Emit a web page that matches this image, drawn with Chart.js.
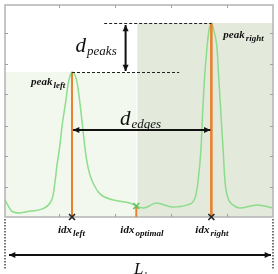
<!DOCTYPE html>
<html>
<head>
<meta charset="utf-8">
<style>
  html, body { margin: 0; padding: 0; background: #fff; }
  #chart { display: block; }
</style>
</head>
<body>
<canvas id="chart" width="278" height="274"></canvas>
<script src="https://cdn.jsdelivr.net/npm/chart.js@4.4.0/dist/chart.umd.min.js"></script>
<script>
// profile samples (index along the line, normalised intensity)
const sampleIdx = [0, 2, 5, 11, 19, 28, 33.6, 35.8, 37.3, 38.8, 41, 42.5, 44, 45.5, 47, 48.5, 50,
  52.2, 53.7, 55.2, 56.7, 58.2, 59.7, 61.2, 63.4, 66.4, 70.9, 81, 93, 98,
  103, 113, 125, 136, 141.8, 144, 146.3, 147.4, 148.7, 150.7, 152.2, 154,
  155.8, 158.2, 159.7, 161.2, 162.7, 164.2, 166.4, 170.1, 175, 188, 200];
const intensity = [0.080, 0.057, 0.028, 0.019, 0.028, 0.038, 0.066, 0.100, 0.165, 0.245, 0.340, 0.425, 0.490,
  0.552, 0.623, 0.665, 0.684,
  0.670, 0.637, 0.575, 0.495, 0.410, 0.325, 0.259, 0.198, 0.151, 0.109, 0.080, 0.066, 0.052,
  0.042, 0.066, 0.047, 0.057, 0.090, 0.165, 0.325, 0.481, 0.637, 0.797, 0.880, 0.915,
  0.880, 0.797, 0.637, 0.481, 0.325, 0.165, 0.090, 0.057, 0.042, 0.057, 0.042];

const idxLeft = 50;
const idxRight = 154;
const idxOptimal = 98;

// small frame ticks
const xTicks = [40, 82, 124, 166];
const yTicks = [0.14, 0.29, 0.43, 0.58, 0.72, 0.87];

// where the helper lines stop
const dashTopStart = 74;
const dashLowEnd = 130;
const dPeaksAt = 90;

function valueAt(i) {
  return intensity[sampleIdx.indexOf(i)];
}

function head(ctx, x, y, ang, size) {
  ctx.beginPath();
  ctx.moveTo(x, y);
  ctx.lineTo(x - size * Math.cos(ang - 0.45), y - size * Math.sin(ang - 0.45));
  ctx.lineTo(x - size * Math.cos(ang + 0.45), y - size * Math.sin(ang + 0.45));
  ctx.closePath();
  ctx.fill();
}

function arrow(ctx, x1, y1, x2, y2) {
  const ang = Math.atan2(y2 - y1, x2 - x1);
  ctx.beginPath();
  ctx.moveTo(x1, y1);
  ctx.lineTo(x2, y2);
  ctx.stroke();
  head(ctx, x2, y2, ang, 7);
  head(ctx, x1, y1, ang + Math.PI, 7);
}

function cross(ctx, x, y, r, color) {
  ctx.strokeStyle = color;
  ctx.lineWidth = 1.6;
  ctx.beginPath();
  ctx.moveTo(x - r, y - r); ctx.lineTo(x + r, y + r);
  ctx.moveTo(x + r, y - r); ctx.lineTo(x - r, y + r);
  ctx.stroke();
}

// text with a subscript
function mathText(ctx, x, y, main, sub, mainFont, subFont, dy) {
  ctx.font = mainFont;
  ctx.fillText(main, x, y);
  const w = ctx.measureText(main).width;
  ctx.font = subFont;
  ctx.fillText(sub, x + w + 1, y + dy);
}

const annotate = {
  id: 'annotate',
  beforeDatasetsDraw(chart) {
    const { ctx, chartArea: a, scales: { x, y } } = chart;
    const xo = x.getPixelForValue(idxOptimal);
    const yl = y.getPixelForValue(valueAt(idxLeft));
    const yr = y.getPixelForValue(valueAt(idxRight));
    ctx.save();
    ctx.fillStyle = '#f3f8ee';
    ctx.fillRect(a.left, yl, xo - a.left, a.bottom - yl);
    ctx.fillStyle = '#e3eadc';
    ctx.fillRect(xo + 1, yr, a.right - xo - 1, a.bottom - yr);
    ctx.restore();
  },
  afterDatasetsDraw(chart) {
    const { ctx, chartArea: a, scales: { x, y } } = chart;
    const xl = x.getPixelForValue(idxLeft);
    const xr = x.getPixelForValue(idxRight);
    const xo = x.getPixelForValue(idxOptimal);
    const yl = y.getPixelForValue(valueAt(idxLeft));
    const yr = y.getPixelForValue(valueAt(idxRight));
    const yo = y.getPixelForValue(valueAt(idxOptimal));
    ctx.save();

    // frame and ticks
    ctx.strokeStyle = '#b3b3b3';
    ctx.lineWidth = 1.5;
    ctx.strokeRect(a.left, a.top, a.right - a.left, a.bottom - a.top);
    ctx.lineWidth = 1;
    ctx.strokeStyle = '#a0a0a0';
    ctx.beginPath();
    xTicks.forEach(function(t) {
      const px = Math.round(x.getPixelForValue(t)) + 0.5;
      ctx.moveTo(px, a.top); ctx.lineTo(px, a.top + 3);
      ctx.moveTo(px, a.bottom); ctx.lineTo(px, a.bottom - 3);
    });
    yTicks.forEach(function(t) {
      const py = Math.round(y.getPixelForValue(t)) + 0.5;
      ctx.moveTo(a.left, py); ctx.lineTo(a.left + 3, py);
      ctx.moveTo(a.right, py); ctx.lineTo(a.right - 3, py);
    });
    ctx.stroke();

    // orange peak / optimum lines
    ctx.strokeStyle = '#e8822e';
    ctx.lineWidth = 2;
    ctx.beginPath();
    ctx.moveTo(xl, yl); ctx.lineTo(xl, a.bottom);
    ctx.moveTo(xo, yo); ctx.lineTo(xo, a.bottom);
    ctx.stroke();
    ctx.lineWidth = 2.6;
    ctx.beginPath();
    ctx.moveTo(xr, yr); ctx.lineTo(xr, a.bottom);
    ctx.stroke();

    cross(ctx, xl, a.bottom, 3, '#222');
    cross(ctx, xr, a.bottom, 3, '#222');
    cross(ctx, xo, yo, 3, '#5cc45c');

    // dashed levels
    ctx.strokeStyle = '#222';
    ctx.lineWidth = 1;
    ctx.setLineDash([3, 2]);
    ctx.beginPath();
    ctx.moveTo(x.getPixelForValue(dashTopStart), Math.round(yr) + 0.5);
    ctx.lineTo(xr, Math.round(yr) + 0.5);
    ctx.moveTo(xl, Math.round(yl) + 0.5);
    ctx.lineTo(x.getPixelForValue(dashLowEnd), Math.round(yl) + 0.5);
    ctx.stroke();

    // dotted limits of L
    ctx.setLineDash([1.5, 1.5]);
    ctx.lineWidth = 1.5;
    ctx.strokeStyle = '#444';
    ctx.beginPath();
    ctx.moveTo(a.left, a.bottom + 2); ctx.lineTo(a.left, 270);
    ctx.moveTo(a.right, a.bottom + 2); ctx.lineTo(a.right, 270);
    ctx.stroke();
    ctx.setLineDash([]);

    // arrows
    ctx.strokeStyle = '#111';
    ctx.fillStyle = '#111';
    ctx.lineWidth = 2;
    const xp = x.getPixelForValue(dPeaksAt);
    arrow(ctx, xp, yr + 2, xp, yl - 1);
    arrow(ctx, xl + 1, 130, xr - 1, 130);
    arrow(ctx, a.left + 4, 255, a.right - 2, 255);

    // labels
    ctx.fillStyle = '#111';
    ctx.textBaseline = 'alphabetic';
    const big = 'italic 21px "Liberation Serif"';
    const mid = 'italic 13px "Liberation Serif"';
    mathText(ctx, xp - 50, 52, 'd', 'peaks', big, mid, 3);
    mathText(ctx, xl + 48, 125, 'd', 'edges', big, mid, 3);
    const lab = 'bold italic 11px "Liberation Serif"';
    const labSub = 'bold italic 9px "Liberation Serif"';
    mathText(ctx, xl - 41, 85, 'peak', 'left', lab, labSub, 3);
    mathText(ctx, xr + 12, 38, 'peak', 'right', lab, labSub, 3);
    mathText(ctx, xl - 14, 233, 'idx', 'left', lab, labSub, 3);
    mathText(ctx, xo - 16, 233, 'idx', 'optimal', lab, labSub, 3);
    mathText(ctx, xr - 16, 233, 'idx', 'right', lab, labSub, 3);
    mathText(ctx, (a.left + a.right) / 2 - 5, 274, 'L', 's', 'italic 17px "Liberation Serif"', 'italic 7px "Liberation Serif"', 1);
    ctx.restore();
  }
};

new Chart(document.getElementById('chart'), {
  type: 'line',
  data: {
    datasets: [{
      data: sampleIdx.map(function(v, i) { return { x: v, y: intensity[i] }; }),
      borderColor: 'rgba(130, 218, 130, 0.9)',
      borderWidth: 1.5,
      pointRadius: 0,
      cubicInterpolationMode: 'monotone',
      fill: false
    }]
  },
  options: {
    responsive: false,
    animation: false,
    layout: { padding: { left: 5, right: 5, top: 5, bottom: 57 } },
    plugins: { legend: { display: false }, tooltip: { enabled: false } },
    scales: {
      x: { type: 'linear', min: 0, max: 200, display: false },
      y: { min: 0, max: 1, display: false }
    }
  },
  plugins: [annotate]
});
</script>
</body>
</html>
